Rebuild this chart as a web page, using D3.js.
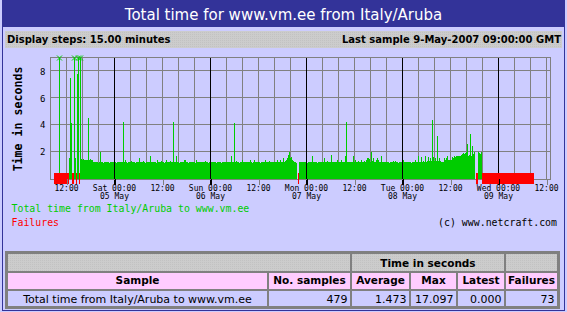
<!DOCTYPE html>
<html>
<head>
<meta charset="utf-8">
<script src="https://cdn.jsdelivr.net/npm/d3@7"></script>
<style>
  html, body { margin: 0; padding: 0; background: #ccccff; }
  svg { display: block; }
  text { font-family: 'DejaVu Sans', Verdana, sans-serif; }
</style>
</head>
<body>
<svg id="board" width="567" height="312"></svg>
<script>
var titleText = 'Total time for www.vm.ee from Italy/Aruba';
var stepText = 'Display steps: 15.00 minutes';
var lastSampleText = 'Last sample 9-May-2007 09:00:00 GMT';
var seriesLabel = 'Total time from Italy/Aruba to www.vm.ee';
var failureLabel = 'Failures';
var creditText = '(c) www.netcraft.com';
var yTitle = 'Time in seconds';

var timeDomain = ['2007-05-04T08:00:00Z', '2007-05-09T13:00:00Z'];
var firstSample = '2007-05-04T09:00:00Z';
var stepMinutes = 15;
var yMax = 9;
var yTicks = [2, 4, 6, 8];

// one value per 15 minute step, null = no successful sample
var totalTime = [
  null, null, null, null, null, 17.097, null, null, null, null, null, null, null, null, null, 1.55, 7.45, 4.16, null, null,
  12.3, 1.5, null, 7.75, 11.2, null, 10.4, 1.45, 1.4, 1.45, 1.4, 1.4, 1.35, 1.4, 4.5, 1.4, 1.45, 1.4, 1.35, 1.25,
  1.2, 1.2, 1.25, 1.2, 1.15, 1.2, 1.97, 1.2, 1.2, 1.15, 1.2, 1.2, 1.25, 1.2, 1.2, 1.15, 1.2, 1.2, 1.2, 1.25,
  1.2, 1.2, 1.15, 1.2, 1.2, 1.2, 1.25, 1.2, 1.2, 4.2, 1.2, 1.4, 1.2, 1.15, 1.2, 1.2, 1.2, 1.3, 1.2, 1.2,
  1.2, 1.15, 1.2, 1.2, 1.2, 1.5, 1.2, 1.2, 1.2, 1.3, 1.2, 1.15, 1.2, 1.2, 1.2, 1.2, 1.65, 1.2, 1.2, 1.25,
  1.2, 1.2, 1.15, 1.35, 1.2, 1.2, 1.2, 1.3, 1.2, 1.2, 1.15, 1.2, 1.4, 1.2, 1.2, 1.2, 1.3, 1.2, 1.25, 4.2,
  1.2, 1.2, 1.65, 1.2, 1.2, 1.15, 1.2, 1.2, 1.2, 1.2, 1.4, 1.35, 1.2, 1.2, 1.15, 1.2, 1.2, 1.2, 1.25, 1.2,
  1.2, 1.15, 1.4, 1.2, 1.2, 1.2, 1.2, 1.25, 1.2, 1.2, 1.2, 1.3, 1.2, 1.2, 1.15, 1.2, 2.1, 1.2, 1.2, 1.2,
  1.2, 1.2, 1.15, 1.2, 1.25, 1.2, 1.2, 1.15, 1.2, 1.2, 1.2, 1.2, 1.25, 1.2, 1.2, 1.2, 1.2, 1.65, 1.2, 1.2,
  4.1, 1.2, 1.3, 1.2, 1.2, 1.15, 1.2, 1.2, 1.35, 1.2, 1.2, 1.2, 1.25, 1.2, 1.2, 1.2, 1.4, 1.2, 1.15, 1.2,
  1.35, 1.2, 1.2, 1.2, 1.25, 1.2, 1.15, 1.2, 1.2, 1.2, 1.2, 1.35, 1.2, 1.2, 1.2, 1.3, 1.2, 1.2, 1.25, 1.2,
  1.2, 1.2, 1.2, 1.4, 1.2, 1.2, 1.35, 1.2, 1.2, 1.55, 1.2, 1.3, 1.35, 1.5, 1.75, 1.97, 1.5, 1.6, 1.4, 1.3,
  1.2, 1.2, 1.15, null, null, 1.2, 1.2, 1.2, 1.25, 1.2, 1.2, 1.2, 1.2, 1.15, 1.2, 1.2, 1.2, 1.2, 1.7, 1.2,
  1.2, 1.2, 1.2, 1.15, 1.25, 1.2, 1.2, 1.2, 1.2, 1.2, 1.5, 1.2, 1.2, 1.3, 1.2, 1.2, 1.2, 1.75, 1.2, 1.2,
  1.2, 1.2, 1.2, 1.35, 1.2, 1.2, 1.2, 1.35, 1.2, 1.2, 1.2, 1.65, 4.18, 1.2, 1.2, 1.25, 1.2, 1.2, 1.2, 1.65,
  1.2, 1.4, 1.2, 1.2, 1.3, 1.2, 1.2, 1.35, 1.2, 1.2, 1.3, 1.2, 1.35, 1.5, 1.5, 1.45, 1.2, 2.0, 1.3, 1.55,
  1.2, 1.2, 1.35, 1.5, 1.4, 1.2, 1.2, 1.7, 1.2, 1.2, 1.2, 1.25, 1.2, 1.2, 1.2, 1.15, 1.2, 1.2, 1.25, 1.3,
  1.2, 1.3, 1.2, 1.2, 1.15, 1.2, 1.2, 1.2, 1.2, 1.35, 1.2, 1.2, 1.2, 1.25, 1.2, 1.2, 1.2, 1.15, 1.2, 1.2,
  1.2, 1.35, 1.2, 1.2, 1.65, 1.2, 1.2, 1.6, 1.2, 1.3, 1.2, 1.65, 1.25, 1.3, 1.6, 1.3, 1.5, 1.3, 4.33, 1.6,
  1.3, 1.5, 1.3, 3.14, 1.3, 1.5, 1.3, 1.2, 1.2, 1.2, 1.55, 1.4, 1.5, 1.7, 1.4, 1.35, 1.35, 1.35, 1.6, 1.55,
  1.65, 1.6, 1.7, 1.65, 1.7, 1.7, 1.65, 1.75, 1.8, 1.9, 1.85, 1.9, 1.95, 2.55, 1.7, 1.75, 3.3, 1.7, 2.4, 1.8,
  2.0, null, null, null, 1.95, 1.9, 1.85, 1.95, null, null, null, null, null, null, null, null, null, null, null, null,
  null, null, null, null, null, null, null, null, null, null, null, null, null, null, null, null, null, null, null, null,
  null, null, null, null, null, null, null, null, null, null, null, null, null, null, null, null, null, null, null, null
];

// failed samples, [from, to)
var failureRuns = [
  ['2007-05-04T09:00:00Z', '2007-05-04T12:45:00Z'],
  ['2007-05-04T13:30:00Z', '2007-05-04T14:00:00Z'],
  ['2007-05-04T14:30:00Z', '2007-05-04T14:45:00Z'],
  ['2007-05-04T15:15:00Z', '2007-05-04T15:30:00Z'],
  ['2007-05-06T22:00:00Z', '2007-05-06T22:15:00Z'],
  ['2007-05-08T18:30:00Z', '2007-05-08T19:00:00Z'],
  ['2007-05-08T20:00:00Z', '2007-05-09T09:00:00Z']
];

var tableGroups = [
  { label: '', span: 2 },
  { label: 'Time in seconds', span: 3 },
  { label: '', span: 1 }
];
var tableHeaders = ['Sample', 'No. samples', 'Average', 'Max', 'Latest', 'Failures'];
var tableRow = ['Total time from Italy/Aruba to www.vm.ee', '479', '1.473', '17.097', '0.000', '73'];

var blue = '#333399';
var lavender = '#ccccff';
var green = '#00cc00';
var gridGray = '#808080';

var svg = d3.select('#board');

// gray dotted fill used by the bars and table header
var pattern = svg.append('defs').append('pattern')
  .attr('id', 'dots')
  .attr('width', 2).attr('height', 2)
  .attr('patternUnits', 'userSpaceOnUse');
pattern.append('rect').attr('width', 2).attr('height', 2).attr('fill', '#cccccc');
pattern.append('rect').attr('width', 1).attr('height', 1).attr('fill', '#c2c2c2');

svg.append('rect').attr('width', 567).attr('height', 312).attr('fill', lavender);

// frame and title
svg.append('rect').attr('x', 2).attr('y', 0).attr('width', 563).attr('height', 27).attr('fill', blue);
svg.append('rect')
  .attr('x', 2.5).attr('y', 0.5).attr('width', 562).attr('height', 310)
  .attr('fill', 'none').attr('stroke', blue);
svg.append('text')
  .attr('x', 283.5).attr('y', 20)
  .attr('text-anchor', 'middle')
  .attr('fill', '#fff')
  .style('font-size', '15px')
  .text(titleText);

svg.append('rect').attr('x', 5).attr('y', 31).attr('width', 557).attr('height', 17).attr('fill', 'url(#dots)');
svg.append('text')
  .attr('x', 7).attr('y', 43)
  .style('font-size', '10px').style('font-weight', 'bold')
  .text(stepText);
svg.append('text')
  .attr('x', 561).attr('y', 43)
  .attr('text-anchor', 'end')
  .style('font-size', '10px').style('font-weight', 'bold')
  .text(lastSampleText);

// chart
var x = d3.scaleUtc().domain(timeDomain.map(d => new Date(d))).range([50, 550]);
var y = d3.scaleLinear().domain([0, yMax]).range([178.5, 57.5]);
var base = 179;
var start = new Date(firstSample);
var samples = totalTime.map((v, i) => ({
  t: d3.utcMinute.offset(start, i * stepMinutes),
  v: v
}));

var plot = svg.append('g').attr('shape-rendering', 'crispEdges');

var vTicks = x.ticks(d3.utcHour.every(4)).filter(t => x(t) > 51 && x(t) < 549);
var isMidnight = t => t.getUTCHours() === 0;

plot.selectAll('.vgrid')
  .data(vTicks.filter(t => !isMidnight(t)))
  .enter().append('line')
  .attr('x1', t => Math.round(x(t)) + 0.5)
  .attr('x2', t => Math.round(x(t)) + 0.5)
  .attr('y1', 57.5).attr('y2', base)
  .attr('stroke', gridGray);

plot.selectAll('.hgrid')
  .data(yTicks)
  .enter().append('line')
  .attr('x1', 50).attr('x2', 551)
  .attr('y1', v => Math.floor(y(v)) + 0.5)
  .attr('y2', v => Math.floor(y(v)) + 0.5)
  .attr('stroke', gridGray);

var okSamples = samples.filter(s => s.v !== null);
plot.selectAll('.bar')
  .data(okSamples)
  .enter().append('rect')
  .attr('x', s => x(s.t))
  .attr('width', s => x(d3.utcMinute.offset(s.t, stepMinutes)) - x(s.t))
  .attr('y', s => y(Math.min(s.v, yMax)))
  .attr('height', s => base - y(Math.min(s.v, yMax)))
  .attr('fill', green);

plot.selectAll('.day')
  .data(vTicks.filter(isMidnight))
  .enter().append('line')
  .attr('x1', t => Math.round(x(t)) + 0.5)
  .attr('x2', t => Math.round(x(t)) + 0.5)
  .attr('y1', 57.5).attr('y2', 185)
  .attr('stroke', '#000');

plot.append('rect')
  .attr('x', 50.5).attr('y', 57.5).attr('width', 500).attr('height', base - 57)
  .attr('fill', 'none').attr('stroke', gridGray);

// values above the top of the scale
svg.selectAll('.clip-mark')
  .data(okSamples.filter(s => s.v > yMax))
  .enter().append('path')
  .attr('d', s => {
    var cx = x(s.t) + 0.5;
    return `M${cx - 2.5},55.5L${cx + 2.5},60.5M${cx - 2.5},60.5L${cx + 2.5},55.5`;
  })
  .attr('stroke', green)
  .attr('fill', 'none');

plot.selectAll('.fail')
  .data(failureRuns)
  .enter().append('rect')
  .attr('x', r => x(new Date(r[0])))
  .attr('width', r => x(new Date(r[1])) - x(new Date(r[0])))
  .attr('y', 173).attr('height', 11)
  .attr('fill', '#ff0000');

// x axis
var dayFmt = d3.utcFormat('%a %H:%M');
var dateFmt = d3.utcFormat('%d %b');
var xAxis = svg.append('g')
  .attr('transform', `translate(0,${base})`)
  .call(d3.axisBottom(x)
    .ticks(d3.utcHour.every(12))
    .tickSize(6)
    .tickFormat(d3.utcFormat('%H:%M')));
xAxis.select('.domain').remove();
xAxis.attr('font-family', null).attr('font-size', null);
xAxis.selectAll('.tick line')
  .attr('stroke', t => isMidnight(t) ? '#000' : gridGray)
  .attr('shape-rendering', 'crispEdges')
  .attr('transform', t => `translate(${Math.round(x(t)) + 0.5 - x(t)},0)`);
xAxis.selectAll('.tick text')
  .attr('y', null).attr('dy', null)
  .style('font-family', "'DejaVu Sans Mono', monospace")
  .style('font-size', '8px')
  .attr('fill', '#000')
  .each(function (t) {
    var txt = d3.select(this).text('');
    if (isMidnight(t)) {
      txt.append('tspan').attr('x', 0).attr('y', 11.7).text(dayFmt(t));
      txt.append('tspan').attr('x', 0).attr('y', 20).text(dateFmt(t));
    } else {
      txt.append('tspan').attr('x', 0).attr('y', 11.7).text(d3.utcFormat('%H:%M')(t));
    }
  });

// y axis
var yAxis = svg.append('g')
  .attr('transform', 'translate(50,0)')
  .call(d3.axisLeft(y).tickValues(yTicks).tickSize(0).tickPadding(4.5));
yAxis.select('.domain').remove();
yAxis.attr('font-family', null).attr('font-size', null);
yAxis.selectAll('.tick text')
  .attr('dy', '0.36em')
  .style('font-family', "'DejaVu Sans Mono', monospace")
  .style('font-size', '9px')
  .attr('fill', '#000');

svg.append('text')
  .attr('transform', 'translate(21.5,119) rotate(-90)')
  .attr('text-anchor', 'middle')
  .style('font-family', "'DejaVu Sans Mono', monospace")
  .style('font-size', '11.6px').style('font-weight', 'bold')
  .text(yTitle);

// legend
var mono = "'DejaVu Sans Mono', monospace";
svg.append('text').attr('x', 11.5).attr('y', 211.5)
  .style('font-family', mono).style('font-size', '9.9px')
  .attr('fill', green).text(seriesLabel);
svg.append('text').attr('x', 11.5).attr('y', 225.5)
  .style('font-family', mono).style('font-size', '9.9px')
  .attr('fill', '#ff0000').text(failureLabel);
svg.append('text').attr('x', 557).attr('y', 225.5)
  .attr('text-anchor', 'end')
  .style('font-family', mono).style('font-size', '9.9px')
  .attr('fill', '#000').text(creditText);

// summary table
var colEdges = [7, 268, 351, 410, 457, 505, 558];
var rowEdges = [253, 272, 289.5, 307];
var table = svg.append('g');

table.append('rect')
  .attr('x', colEdges[0] - 1).attr('y', rowEdges[0] - 1)
  .attr('width', colEdges[6] - colEdges[0] + 2).attr('height', rowEdges[3] - rowEdges[0] + 2)
  .attr('fill', 'none').attr('stroke', gridGray).attr('stroke-width', 2);

function cell(c0, c1, r, fill) {
  table.append('rect')
    .attr('x', colEdges[c0] + 0.5).attr('y', rowEdges[r] + 0.5)
    .attr('width', colEdges[c1] - colEdges[c0] - 1)
    .attr('height', rowEdges[r + 1] - rowEdges[r] - 1)
    .attr('fill', fill).attr('stroke', gridGray)
    .attr('shape-rendering', 'crispEdges');
}

var col = 0;
tableGroups.forEach(g => {
  cell(col, col + g.span, 0, 'url(#dots)');
  if (g.label) {
    table.append('text')
      .attr('x', (colEdges[col] + colEdges[col + g.span]) / 2).attr('y', 266.5)
      .attr('text-anchor', 'middle')
      .style('font-size', '10.5px').style('font-weight', 'bold')
      .text(g.label);
  }
  col += g.span;
});

tableHeaders.forEach((h, i) => {
  cell(i, i + 1, 1, '#ffccff');
  table.append('text')
    .attr('x', (colEdges[i] + colEdges[i + 1]) / 2).attr('y', 284)
    .attr('text-anchor', 'middle')
    .style('font-size', '10.5px').style('font-weight', 'bold')
    .text(h);
});

tableRow.forEach((v, i) => {
  cell(i, i + 1, 2, lavender);
  table.append('text')
    .attr('x', i === 0 ? (colEdges[0] + colEdges[1]) / 2 : colEdges[i + 1] - 3.5)
    .attr('y', 302.5)
    .attr('text-anchor', i === 0 ? 'middle' : 'end')
    .style('font-size', '11px')
    .text(v);
});
</script>
</body>
</html>
